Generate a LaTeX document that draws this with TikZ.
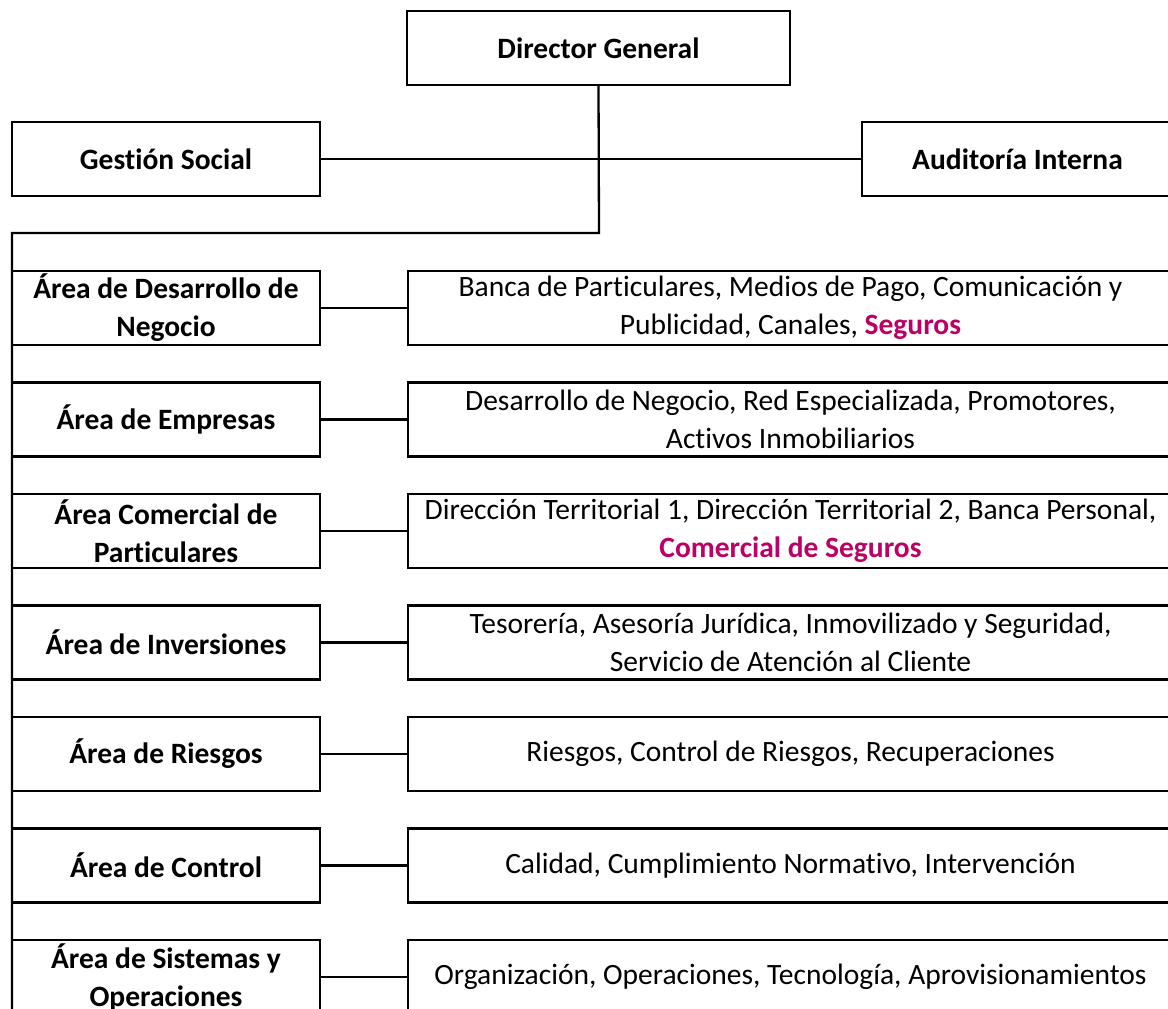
\documentclass[tikz,border=0pt]{standalone}
\usepackage{fontspec}
\setmainfont{Carlito}[Ligatures=NoCommon]
\definecolor{segcol}{HTML}{BC0064}
\begin{document}
\begin{tikzpicture}[x=1pt,y=-1pt,
  every node/.style={inner sep=0pt,outer sep=0pt},
  box/.style={draw=black,line width=2.3pt,rectangle,minimum height=74pt,align=center,
    font=\fontsize{29.5}{38}\selectfont},
  leftbox/.style={box,minimum width=308pt,font=\fontsize{29.5}{38}\selectfont\bfseries},
  rightbox/.style={box,minimum width=765pt},
  conn/.style={draw=black,line width=2.3pt}]
\useasboundingbox (0,0) rectangle (1168,1009);
\fill[white] (0,0) rectangle (1168,1009);

\node[box,minimum width=383pt,font=\fontsize{29.5}{38}\selectfont\bfseries] (dg) at (598.5,48) {Director General};
\node[leftbox] (gs) at (166,159) {Gestión Social};
\node[box,minimum width=311pt,font=\fontsize{29.5}{38}\selectfont\bfseries] (ai) at (1017.5,159) {Auditoría Interna};

\node[leftbox] (l1) at (166,308) {Área de Desarrollo de\\Negocio};
\node[rightbox] (r1) at (790.5,308) {Banca de Particulares, Medios de Pago, Comunicación y\\Publicidad, Canales, {\bfseries\color{segcol}Seguros}};
\node[leftbox] (l2) at (166,419.5) {Área de Empresas};
\node[rightbox] (r2) at (790.5,419.5) {Desarrollo de Negocio, Red Especializada, Promotores,\\Activos Inmobiliarios};
\node[leftbox] (l3) at (166,531) {Área Comercial de\\Particulares};
\node[rightbox] (r3) at (790.5,531) {Dirección Territorial 1, Dirección Territorial 2, Banca Personal,\\{\bfseries\color{segcol}Comercial de Seguros}};
\node[leftbox] (l4) at (166,642.5) {Área de Inversiones};
\node[rightbox] (r4) at (790.5,642.5) {Tesorería, Asesoría Jurídica, Inmovilizado y Seguridad,\\Servicio de Atención al Cliente};
\node[leftbox] (l5) at (166,754) {Área de Riesgos};
\node[rightbox] (r5) at (790.5,754) {Riesgos, Control de Riesgos, Recuperaciones};
\node[leftbox] (l6) at (166,865.5) {Área de Control};
\node[rightbox] (r6) at (790.5,865.5) {Calidad, Cumplimiento Normativo, Intervención};
\node[leftbox] (l7) at (166,977) {Área de Sistemas y\\Operaciones};
\node[rightbox] (r7) at (790.5,977) {Organización, Operaciones, Tecnología, Aprovisionamientos};

\coordinate (turn) at (599,233);
\coordinate (spine) at (12,233);
\coordinate (spineend) at (12,1015);

\draw[conn] (gs.east) -- (ai.west);
\draw[conn] (dg.south) -- (turn) -- (spine) -- (spineend);
\foreach \i in {1,...,7}{\draw[conn] (l\i.east) -- (r\i.west);}
\end{tikzpicture}
\end{document}
